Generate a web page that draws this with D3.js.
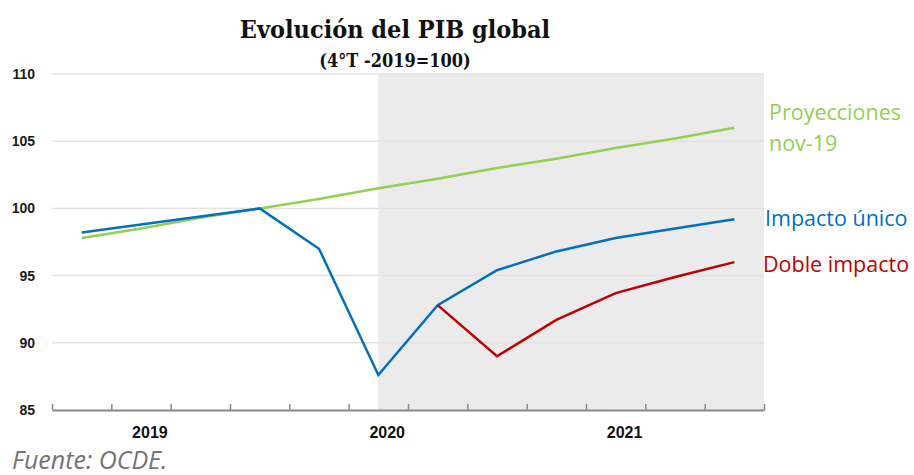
<!DOCTYPE html>
<html>
<head>
<meta charset="utf-8">
<script src="https://cdn.jsdelivr.net/npm/d3@7"></script>
<style>
  body { margin: 0; background: #fff; }
  svg { display: block; }
</style>
</head>
<body>
<svg id="chart" width="914" height="475"></svg>
<script>
// trimestres 2019-2021
var quarters = ["2019T1", "2019T2", "2019T3", "2019T4",
                "2020T1", "2020T2", "2020T3", "2020T4",
                "2021T1", "2021T2", "2021T3", "2021T4"];
var proyecciones = [97.8, 98.5, 99.3, 100.0, 100.7, 101.5, 102.2, 103.0, 103.7, 104.5, 105.2, 106.0];
var impactoUnico = [98.2, 98.8, 99.4, 100.0, 97.0, 87.6, 92.8, 95.4, 96.8, 97.8, 98.5, 99.2];
var dobleImpacto = [null, null, null, null, null, null, 92.8, 89.0, 91.7, 93.7, 94.9, 96.0];
var yTicks = [85, 90, 95, 100, 105, 110];
var years = ["2019", "2020", "2021"];
var yearPos = [1.65, 5.65, 9.65];
var shadeFrom = "2020T2";

var svg = d3.select("#chart");

var x = d3.scaleLinear().domain([0, quarters.length]).range([52, 764]);
var y = d3.scaleLinear().domain([85, 110]).range([410, 74]);
var xq = function (i) { return x(i + 0.5); };

// zona sombreada (proyección)
var s = quarters.indexOf(shadeFrom);
svg.append("rect")
    .attr("x", xq(s))
    .attr("y", y(110))
    .attr("width", x(quarters.length) - xq(s))
    .attr("height", y(85) - y(110))
    .attr("fill", "#ebebeb");

// rejilla
svg.append("g")
    .selectAll("line")
    .data(yTicks.filter(function (d) { return d > 85; }))
    .enter()
    .append("line")
    .attr("x1", x(0))
    .attr("x2", x(quarters.length))
    .attr("y1", function (d) { return y(d); })
    .attr("y2", function (d) { return y(d); })
    .attr("stroke", "#e2e2e2")
    .attr("stroke-width", 1.5);

// eje Y
svg.append("g")
    .selectAll("text")
    .data(yTicks)
    .enter()
    .append("text")
    .attr("x", 35)
    .attr("y", function (d) { return y(d); })
    .attr("dy", "0.35em")
    .attr("text-anchor", "end")
    .style("font-family", "'Liberation Sans', Arial, sans-serif")
    .style("font-weight", "bold")
    .style("font-size", "14px")
    .attr("fill", "#1a1a1a")
    .text(function (d) { return d; });

// eje X
var xAxis = d3.axisBottom(x)
    .tickValues(d3.range(0, quarters.length + 1))
    .tickSize(-6)
    .tickSizeOuter(0)
    .tickFormat("");
var gx = svg.append("g")
    .attr("transform", "translate(0," + y(85) + ")")
    .call(xAxis);
gx.select(".domain").attr("stroke", "#8a8a8a").attr("stroke-width", 2);
gx.selectAll(".tick line").attr("stroke", "#8a8a8a").attr("stroke-width", 1.5);

svg.append("g")
    .selectAll("text")
    .data(years)
    .enter()
    .append("text")
    .attr("x", function (d, i) { return x(yearPos[i]); })
    .attr("y", 438)
    .attr("text-anchor", "middle")
    .style("font-family", "'Liberation Sans', Arial, sans-serif")
    .style("font-weight", "bold")
    .style("font-size", "16px")
    .attr("fill", "#111")
    .text(function (d) { return d; });

// líneas
var line = d3.line()
    .defined(function (d) { return d != null; })
    .x(function (d, i) { return xq(i); })
    .y(function (d) { return y(d); });

var series = [
    { values: proyecciones, color: "#92d050" },
    { values: impactoUnico, color: "#0070c0" },
    { values: dobleImpacto, color: "#c00000" }
];

svg.append("g")
    .selectAll("path")
    .data(series)
    .enter()
    .append("path")
    .attr("d", function (d) { return line(d.values); })
    .attr("fill", "none")
    .attr("stroke", function (d) { return d.color; })
    .attr("stroke-width", 2.5)
    .attr("stroke-linejoin", "miter");

// etiquetas de series
var labels = [
    { text: "Proyecciones", x: 769, y: 120, color: "#92d050" },
    { text: "nov-19", x: 769, y: 151, color: "#92d050" },
    { text: "Impacto único", x: 765, y: 226, color: "#0070c0" },
    { text: "Doble impacto", x: 763, y: 272, color: "#c00000" }
];
svg.append("g")
    .selectAll("text")
    .data(labels)
    .enter()
    .append("text")
    .attr("x", function (d) { return d.x; })
    .attr("y", function (d) { return d.y; })
    .style("font-family", "'Open Sans', sans-serif")
    .style("font-size", "21.5px")
    .attr("fill", function (d) { return d.color; })
    .text(function (d) { return d.text; });

// títulos
svg.append("text")
    .attr("x", 395)
    .attr("y", 38)
    .attr("text-anchor", "middle")
    .style("font-family", "'DejaVu Serif Condensed', 'DejaVu Serif', serif")
    .style("font-stretch", "condensed")
    .style("font-weight", "bold")
    .style("font-size", "25px")
    .attr("fill", "#111")
    .text("Evolución del PIB global");

svg.append("text")
    .attr("x", 395)
    .attr("y", 67)
    .attr("text-anchor", "middle")
    .style("font-family", "'DejaVu Serif Condensed', 'DejaVu Serif', serif")
    .style("font-stretch", "condensed")
    .style("font-weight", "bold")
    .style("font-size", "18px")
    .attr("fill", "#111")
    .text("(4°T -2019=100)");

svg.append("text")
    .attr("x", 12)
    .attr("y", 469)
    .style("font-family", "'Open Sans', sans-serif")
    .style("font-style", "italic")
    .style("font-size", "25px")
    .attr("fill", "#747474")
    .text("Fuente: OCDE.");
</script>
</body>
</html>
